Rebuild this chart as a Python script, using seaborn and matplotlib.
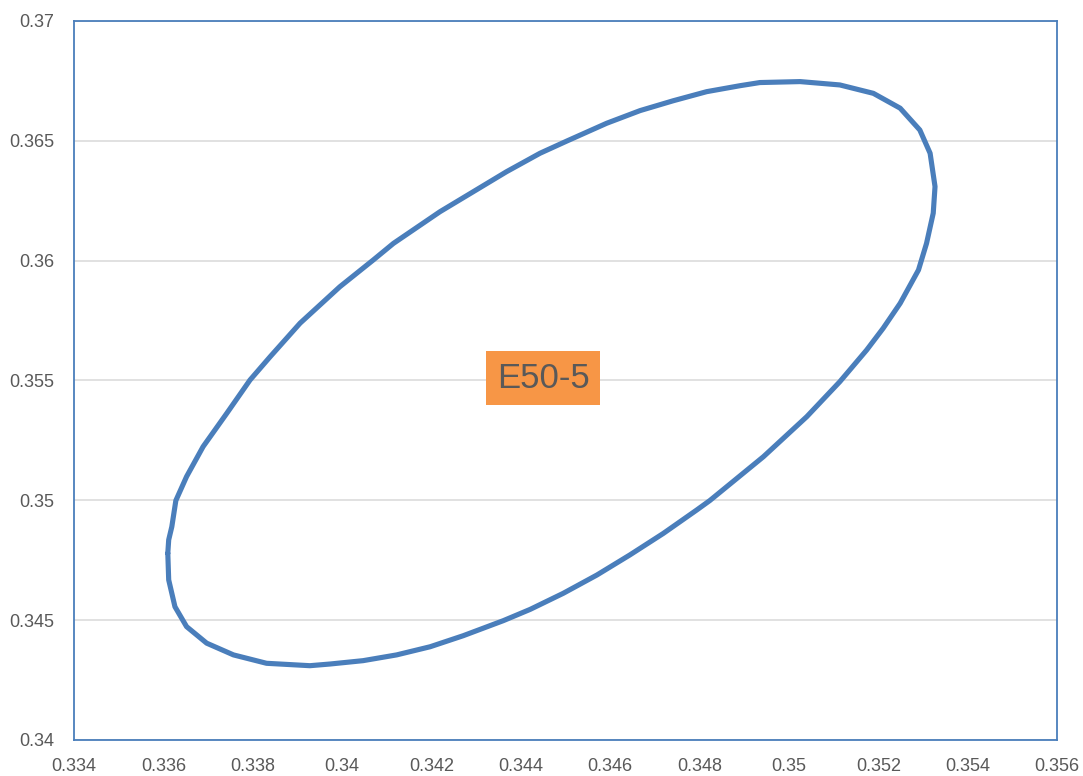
import pandas as pd
import matplotlib
matplotlib.use('Agg')
import matplotlib.pyplot as plt
import seaborn as sns

# points read along the E50-5 ellipse (clockwise, starting at leftmost point)
x_vals = [0.33610, 0.33612, 0.33619, 0.33628, 0.33652, 0.33689, 0.33742, 0.33794,
          0.33839, 0.33906, 0.33995, 0.34070, 0.34115, 0.34219, 0.34294, 0.34368,
          0.34443, 0.34503, 0.34592, 0.34667, 0.34741, 0.34816, 0.34891, 0.34935,
          0.35025, 0.35114, 0.35189, 0.35249, 0.35293, 0.35316, 0.35327, 0.35323,
          0.35308, 0.35290, 0.35249, 0.35211, 0.35174, 0.35114, 0.35040, 0.34943,
          0.34823, 0.34794, 0.34719, 0.34644, 0.34570, 0.34495, 0.34421, 0.34361,
          0.34271, 0.34197, 0.34122, 0.34047, 0.33973, 0.33928, 0.33831, 0.33757,
          0.33697, 0.33652, 0.33626, 0.33612, 0.33610]
y_vals = [0.34779, 0.34835, 0.34890, 0.34999, 0.35099, 0.35224, 0.35363, 0.35502,
          0.35599, 0.35739, 0.35891, 0.36003, 0.36072, 0.36204, 0.36288, 0.36371,
          0.36448, 0.36499, 0.36573, 0.36626, 0.36667, 0.36705, 0.36730, 0.36743,
          0.36747, 0.36733, 0.36698, 0.36636, 0.36545, 0.36448, 0.36309, 0.36198,
          0.36072, 0.35961, 0.35822, 0.35718, 0.35627, 0.35495, 0.35349, 0.35182,
          0.34999, 0.34960, 0.34862, 0.34772, 0.34688, 0.34612, 0.34545, 0.34498,
          0.34435, 0.34389, 0.34355, 0.34331, 0.34317, 0.34310, 0.34320, 0.34355,
          0.34404, 0.34473, 0.34556, 0.34668, 0.34779]

label_text = 'E50-5'
label_x = 0.3445
label_y = 0.3551

x_ticks = [0.334, 0.336, 0.338, 0.34, 0.342, 0.344, 0.346, 0.348, 0.35, 0.352, 0.354, 0.356]
x_tick_labels = ['0.334', '0.336', '0.338', '0.34', '0.342', '0.344', '0.346', '0.348',
                 '0.35', '0.352', '0.354', '0.356']
y_ticks = [0.34, 0.345, 0.35, 0.355, 0.36, 0.365, 0.37]
y_tick_labels = ['0.34', '0.345', '0.35', '0.355', '0.36', '0.365', '0.37']

df = pd.DataFrame({'x': x_vals, 'y': y_vals})

sns.set_theme(style='whitegrid')
plt.rcParams['font.family'] = ['Liberation Sans', 'DejaVu Sans']

blue = '#4A7EBB'
grey_txt = '#595959'

fig = plt.figure(figsize=(10.83, 7.76), dpi=100)
ax = fig.add_axes([0.0683, 0.0464, 0.9077, 0.9266])

sns.lineplot(data=df, x='x', y='y', sort=False, estimator=None, color=blue,
             linewidth=3.7, ax=ax, solid_joinstyle='round', solid_capstyle='round')

ax.set_xlim(0.334, 0.356)
ax.set_ylim(0.34, 0.37)
ax.set_xticks(x_ticks)
ax.set_xticklabels(x_tick_labels)
ax.set_yticks(y_ticks)
ax.set_yticklabels(y_tick_labels)
ax.set_xlabel('')
ax.set_ylabel('')

ax.xaxis.grid(False)
ax.yaxis.grid(True, color='#D9D9D9', linewidth=1.1)
ax.set_axisbelow(True)
ax.tick_params(axis='both', length=0, labelsize=13, labelcolor=grey_txt)
ax.tick_params(axis='x', pad=13)
ax.tick_params(axis='y', pad=14)
for sp in ax.spines.values():
    sp.set_visible(True)
    sp.set_color(blue)
    sp.set_linewidth(1.3)

ax.text(label_x, label_y, label_text, fontsize=25, color=grey_txt,
        ha='center', va='center',
        bbox=dict(boxstyle='square,pad=0.3', facecolor='#F79646', edgecolor='none'))

fig.savefig('out.png', dpi=100)
